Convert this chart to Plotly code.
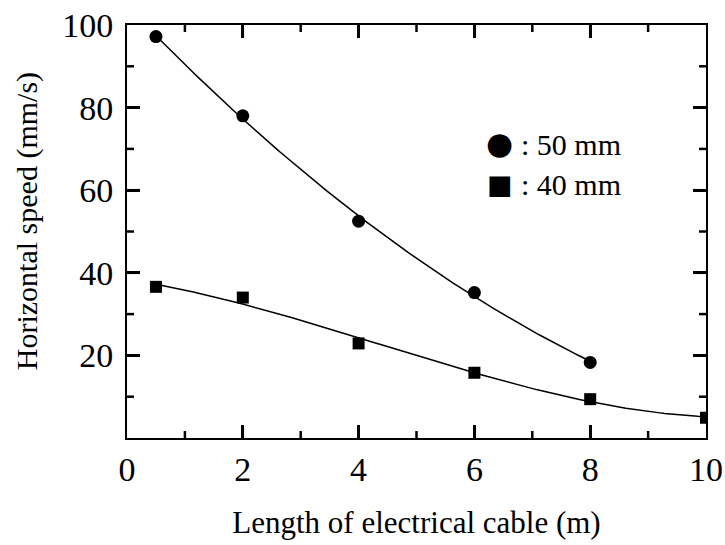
import numpy as np
import plotly.graph_objects as go

# Data
x50 = [0.5, 2, 4, 6, 8]
y50 = [97.2, 78.0, 52.5, 35.2, 18.3]
x40 = [0.5, 2, 4, 6, 8, 10]
y40 = [36.6, 34.0, 22.9, 15.8, 9.4, 4.9]
xticks = [0, 2, 4, 6, 8, 10]
xminor = [1, 3, 5, 7, 9]
yticks = [20, 40, 60, 80, 100]
yminor = [10, 30, 50, 70, 90]
legend_labels = [": 50 mm", ": 40 mm"]

FONT = "Liberation Serif"

fig = go.Figure()

# fitted curves (polynomial least-squares fit of the data)
c50 = np.polyfit(x50, y50, 2)
xf50 = np.linspace(min(x50), max(x50), 200)
fig.add_trace(go.Scatter(x=xf50, y=np.polyval(c50, xf50), mode="lines",
                         line=dict(color="black", width=1.5), showlegend=False, hoverinfo="skip"))
c40 = np.polyfit(x40, y40, 3)
xf40 = np.linspace(min(x40), max(x40), 200)
fig.add_trace(go.Scatter(x=xf40, y=np.polyval(c40, xf40), mode="lines",
                         line=dict(color="black", width=1.5), showlegend=False, hoverinfo="skip"))

fig.add_trace(go.Scatter(x=x50, y=y50, mode="markers", name=legend_labels[0], showlegend=False,
                         marker=dict(symbol="circle", size=13, color="black")))
fig.add_trace(go.Scatter(x=x40, y=y40, mode="markers", name=legend_labels[1], showlegend=False,
                         marker=dict(symbol="square", size=12, color="black")))

fig.update_xaxes(range=[0, 10], tickmode="array", tickvals=xticks, ticktext=[str(v) for v in xticks],
                 showline=True, linecolor="black", linewidth=2, mirror="ticks",
                 ticks="inside", ticklen=13, tickwidth=3, tickcolor="black",
                 showgrid=False, zeroline=False, automargin=False,
                 tickfont=dict(family=FONT, size=34, color="black"),
                 title=dict(text="Length of electrical cable (m)", font=dict(family=FONT, size=31, color="black"),
                            standoff=25))
fig.update_yaxes(range=[0, 100], tickmode="array", tickvals=yticks, ticktext=[str(v) for v in yticks],
                 showline=True, linecolor="black", linewidth=2, mirror="ticks",
                 ticks="inside", ticklen=13, tickwidth=3, tickcolor="black",
                 showgrid=False, zeroline=False, automargin=False,
                 ticklabelstandoff=5,
                 tickfont=dict(family=FONT, size=34, color="black"))

# inside tick marks on all four sides, positioned by the axes from the tick lists
MAJ_X, MIN_X = 13 / 413, 7 / 413
MAJ_Y, MIN_Y = 13 / 579, 7 / 579
tick_line = dict(color="black", width=2.5)
for vals, ln in ((xticks[1:-1], MAJ_X), (xminor, MIN_X)):
    for v in vals:
        fig.add_shape(type="line", xref="x", yref="paper", x0=v, x1=v, y0=0, y1=ln, line=tick_line, layer="above")
        fig.add_shape(type="line", xref="x", yref="paper", x0=v, x1=v, y0=1, y1=1 - ln, line=tick_line, layer="above")
for vals, ln in ((yticks[:-1], MAJ_Y), (yminor, MIN_Y)):
    for v in vals:
        fig.add_shape(type="line", xref="paper", yref="y", x0=0, x1=ln, y0=v, y1=v, line=tick_line, layer="above")
        fig.add_shape(type="line", xref="paper", yref="y", x0=1, x1=1 - ln, y0=v, y1=v, line=tick_line, layer="above")

# y-axis title
fig.add_annotation(xref="paper", yref="paper", x=-0.1727, y=0.525, text="Horizontal speed (mm/s)",
                   textangle=-90, showarrow=False, xanchor="center", yanchor="middle",
                   font=dict(family=FONT, size=30, color="black"))

# legend drawn as annotations (symbol + label)
leg_sym_y = [0.715, 0.613]
leg_txt_y = [0.710, 0.613]
leg_sym = ["●", "■"]
leg_sym_size = [31, 27]
for sym, ssz, lab, sy, ty in zip(leg_sym, leg_sym_size, legend_labels, leg_sym_y, leg_txt_y):
    fig.add_annotation(xref="paper", yref="paper", x=0.644, y=sy, text=sym, showarrow=False,
                       xanchor="center", yanchor="middle",
                       font=dict(family="DejaVu Sans", size=ssz, color="black"))
    fig.add_annotation(xref="paper", yref="paper", x=0.677, y=ty, text=lab, showarrow=False,
                       xanchor="left", yanchor="middle",
                       font=dict(family=FONT, size=30, color="black"))

fig.update_layout(
    width=725, height=545,
    margin=dict(l=127, r=19, t=25, b=107),
    plot_bgcolor="white",
    showlegend=False,
)

fig.write_html("out.html")
